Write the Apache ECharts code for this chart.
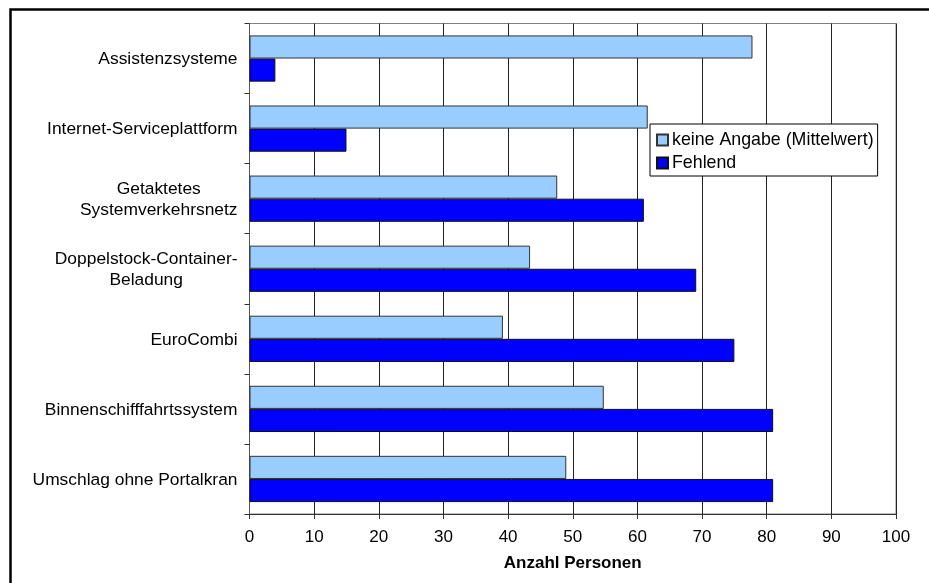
<!DOCTYPE html>
<html>
<head>
<meta charset="utf-8">
<script src="https://cdn.jsdelivr.net/npm/echarts@6/dist/echarts.min.js"></script>
<style>
  html, body { margin: 0; padding: 0; background: #fff; }
  #chart { width: 929px; height: 583px; }
</style>
</head>
<body>
<div id="chart"></div>
<script>
// Categories, top to bottom
const categories = [
  'Assistenzsysteme',
  'Internet-Serviceplattform',
  'Getaktetes\nSystemverkehrsnetz',
  'Doppelstock-Container-\nBeladung',
  'EuroCombi',
  'Binnenschifffahrtssystem',
  'Umschlag ohne Portalkran'
];

const seriesNames = ['keine Angabe (Mittelwert)', 'Fehlend'];

// keine Angabe (Mittelwert)
const keineAngabe = [77.8, 61.6, 47.6, 43.4, 39.2, 54.8, 49.0];
// Fehlend
const fehlend = [4, 15, 61, 69.1, 75, 81, 81];

const xTicks = { min: 0, max: 100, interval: 10 };
const xAxisTitle = 'Anzahl Personen';

const FONT = '"Liberation Sans", Arial, sans-serif';

const chart = echarts.init(document.getElementById('chart'), null, { renderer: 'canvas' });

chart.setOption({
  animation: false,
  backgroundColor: '#ffffff',
  textStyle: { fontFamily: FONT, color: '#000' },
  grid: {
    left: 249.5,
    right: 33,
    top: 23.5,
    bottom: 69,
    show: true,
    borderColor: '#808080',
    borderWidth: 1,
    backgroundColor: '#ffffff'
  },
  legend: {
    orient: 'vertical',
    left: 650,
    top: 124,
    padding: [6, 4, 3, 6],
    itemGap: 3,
    itemWidth: 11,
    itemHeight: 11,
    backgroundColor: '#ffffff',
    borderColor: '#000',
    borderWidth: 1,
    borderRadius: 0,
    icon: 'rect',
    textStyle: { fontFamily: FONT, fontSize: 17.8, lineHeight: 20, color: '#000', padding: [0, 0, 0, -1] },
    data: seriesNames
  },
  xAxis: {
    type: 'value',
    min: xTicks.min,
    max: xTicks.max,
    interval: xTicks.interval,
    name: xAxisTitle,
    nameLocation: 'middle',
    nameGap: 41,
    nameTextStyle: { fontFamily: FONT, fontSize: 17, fontWeight: 'bold', color: '#000' },
    axisLine: { show: true, lineStyle: { color: '#333', width: 1 } },
    axisTick: { show: true, inside: false, length: 5, lineStyle: { color: '#333' } },
    axisLabel: { fontFamily: FONT, fontSize: 17, color: '#000', margin: 15 },
    splitLine: { show: true, lineStyle: { color: '#222', width: 1 } }
  },
  yAxis: {
    type: 'category',
    inverse: true,
    data: categories,
    axisLine: { show: true, lineStyle: { color: '#555', width: 1 } },
    axisTick: { show: true, inside: false, length: 5, lineStyle: { color: '#333' } },
    axisLabel: {
      margin: 12,
      align: 'right',
      fontFamily: FONT,
      fontSize: 17.4,
      lineHeight: 21,
      color: '#000',
      formatter: (v) => v.split('\n').map((l) => '{c|' + l + '}').join('\n'),
      rich: {
        c: { align: 'center', fontFamily: FONT, fontSize: 17.4, lineHeight: 21, color: '#000', padding: [2, 0, 0, 0] }
      }
    },
    splitLine: { show: false }
  },
  series: [
    {
      name: seriesNames[0],
      type: 'bar',
      data: keineAngabe,
      barGap: '0%',
      barCategoryGap: '34%',
      itemStyle: { color: '#99CCFF', borderColor: '#333', borderWidth: 1 }
    },
    {
      name: seriesNames[1],
      type: 'bar',
      data: fehlend,
      barGap: '0%',
      barCategoryGap: '34%',
      itemStyle: { color: '#0000FF', borderColor: '#111', borderWidth: 1 }
    }
  ],
  graphic: [
    {
      type: 'rect',
      left: 8,
      top: 7,
      shape: { x: 0, y: 0, width: 960, height: 620 },
      style: { fill: 'none', stroke: '#000', lineWidth: 2.5 },
      silent: true,
      z: 100
    }
  ]
});
</script>
</body>
</html>
